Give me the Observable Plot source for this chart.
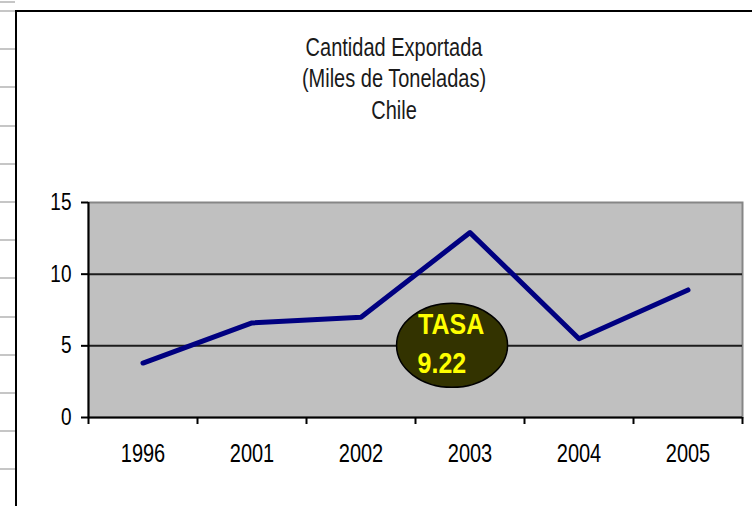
<!DOCTYPE html>
<html>
<head>
<meta charset="utf-8">
<script src="https://cdn.jsdelivr.net/npm/d3@7"></script>
<script src="https://cdn.jsdelivr.net/npm/@observablehq/plot@0.6"></script>
<style>
  html, body { margin: 0; padding: 0; background: #fff; }
  #page { position: relative; width: 752px; height: 506px; overflow: hidden;
          font-family: "Liberation Sans", Arial, sans-serif; }
  #rows { position: absolute; left: 0; top: 0; width: 15px; height: 506px;
          background-image: repeating-linear-gradient(to bottom, #c6c6c6 0px, #c6c6c6 2px, transparent 2px, transparent 38.2px);
          background-position: 0 10px; }
  #sheet { position: absolute; left: 15px; top: 10px; width: 800px; height: 600px;
           border-left: 2px solid #000; border-top: 2px solid #000; }
  .tline { position: absolute; left: 394px; white-space: nowrap; font-size: 20px; line-height: 20px;
           color: #1a1a1a; transform: translate(-50%, -50%) scaleY(1.3); }
  #chart { position: absolute; left: 0; top: 130px; }
</style>
</head>
<body>
<div id="page">
  <div id="rows"></div>
  <div id="sheet"></div>
  <div id="title"></div>
  <div id="chart"></div>
</div>
<script>
// ---- data ----
const years = ["1996", "2001", "2002", "2003", "2004", "2005"];
const exported = [3.8, 6.6, 7.0, 12.9, 5.5, 8.9];
const yTicks = [0, 5, 10, 15];
const gridValues = [5, 10];
const titleLines = ["Cantidad Exportada", "(Miles de Toneladas)", "Chile"];
const tasaLabel = "TASA";
const tasaValue = 9.22;
const tasaPosition = [2.84, 5]; // [category index, y value] of the badge centre

// ---- title ----
const titleCenters = [46.5, 78, 109.5];
const titleDiv = document.getElementById("title");
titleLines.forEach((t, k) => {
  const d = document.createElement("div");
  d.className = "tline";
  d.style.top = titleCenters[k] + "px";
  d.textContent = t;
  titleDiv.appendChild(d);
});

// ---- chart ----
const rows = years.map((year, i) => ({i, year, value: exported[i]}));
const badge = [{x: tasaPosition[0], y: tasaPosition[1]}];

const ellipseMark = (index, scales) => {
  const ns = "http://www.w3.org/2000/svg";
  const g = document.createElementNS(ns, "g");
  const el = document.createElementNS(ns, "ellipse");
  el.setAttribute("cx", scales.x(tasaPosition[0]));
  el.setAttribute("cy", scales.y(tasaPosition[1]));
  el.setAttribute("rx", 55.5);
  el.setAttribute("ry", 42);
  el.setAttribute("fill", "#333300");
  el.setAttribute("stroke", "#000");
  el.setAttribute("stroke-width", 1.5);
  g.appendChild(el);
  return g;
};

const chart = Plot.plot({
  width: 752,
  height: 376,
  marginTop: 72,
  marginBottom: 89,
  marginLeft: 88,
  marginRight: 10,
  x: {type: "linear", domain: [-0.5, years.length - 0.5], axis: null, label: null},
  y: {domain: [0, 15], axis: null, label: null},
  style: {background: "transparent", color: "#000", fontFamily: "Liberation Sans, Arial, sans-serif", overflow: "visible"},
  marks: [
    Plot.frame({fill: "#c0c0c0", stroke: "#868686", strokeWidth: 2}),
    Plot.ruleY(gridValues, {stroke: "#1c1c1c", strokeWidth: 2}),
    Plot.ruleY([0], {stroke: "#000", strokeWidth: 2}),
    Plot.ruleX([-0.5], {y1: 0, y2: 15, stroke: "#000", strokeWidth: 2}),
    Plot.axisY({ticks: yTicks, tickSize: 7, tickPadding: 10, fontSize: 19, strokeWidth: 2,
                tickFormat: d => String(d), label: null}),
    Plot.axisX({ticks: d3.range(-0.5, years.length), tickSize: 7, strokeWidth: 2,
                tickFormat: () => "", label: null}),
    Plot.axisX({ticks: d3.range(years.length), tickSize: 0, tickPadding: 27, fontSize: 20,
                tickFormat: i => years[i], label: null}),
    Plot.line(rows, {x: "i", y: "value", stroke: "#000080", strokeWidth: 5}),
    ellipseMark,
    Plot.text(badge, {x: "x", y: "y", text: () => tasaLabel, textAnchor: "start", lineAnchor: "middle",
                      dx: -34.5, dy: -21.5, fill: "#ffff00", fontWeight: "bold", fontSize: 25}),
    Plot.text(badge, {x: "x", y: "y", text: () => String(tasaValue), textAnchor: "start", lineAnchor: "middle",
                      dx: -35, dy: 17.5, fill: "#ffff00", fontWeight: "bold", fontSize: 25})
  ]
});

// stretch text vertically like the original rendering
function stretch(selector, k) {
  chart.querySelectorAll(selector).forEach(el => {
    const t = el.getAttribute("transform") || "";
    el.setAttribute("transform", (t + ` scale(1,${k})`).trim());
  });
}
stretch('g[aria-label="y-axis tick label"] text', 1.25);
stretch('g[aria-label="x-axis tick label"] text', 1.25);
stretch('g[aria-label="text"] text', 1.2);

document.getElementById("chart").appendChild(chart);
</script>
</body>
</html>
